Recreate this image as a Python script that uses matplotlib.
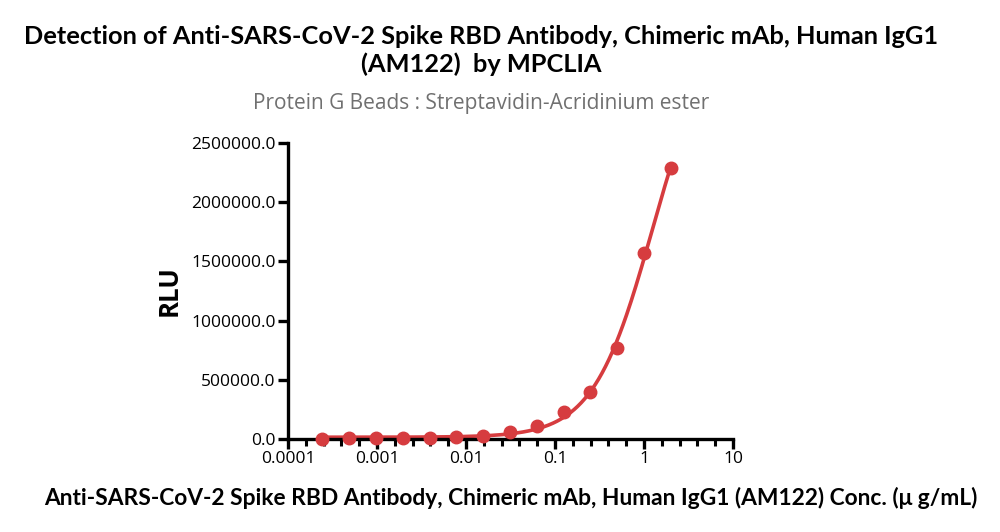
import numpy as np
import matplotlib.pyplot as plt
from matplotlib.ticker import FixedLocator, NullFormatter

conc = [2.0, 1.0, 0.5, 0.25, 0.125, 0.0625, 0.03125, 0.015625,
        0.0078125, 0.00390625, 0.001953125, 0.0009765625, 0.00048828125, 0.000244140625]
rlu = [2290000, 1570000, 770000, 398000, 228000, 110000, 57000, 25000,
       13000, 8000, 6000, 5000, 4000, 3000]

title = 'Detection of Anti-SARS-CoV-2 Spike RBD Antibody, Chimeric mAb, Human IgG1\n(AM122)  by MPCLIA'
subtitle = 'Protein G Beads : Streptavidin-Acridinium ester'
xlab = 'Anti-SARS-CoV-2 Spike RBD Antibody, Chimeric mAb, Human IgG1 (AM122) Conc. (\u03bc g/mL)'
xticks = [0.0001, 0.001, 0.01, 0.1, 1, 10]
xticklabels = ['0.0001', '0.001', '0.01', '0.1', '1', '10']
yticks = [0, 500000, 1000000, 1500000, 2000000, 2500000]

red = '#d63c3f'

# 4PL fit: grid over logEC50 / hill, bottom and top by least squares
lx = np.log10(conc)
y = np.array(rlu, dtype=float)
best = None
for le in np.linspace(-1, 2.5, 351):
    for h in np.linspace(0.4, 2.5, 211):
        s = 1 / (1 + 10 ** ((le - lx) * h))
        A = np.column_stack([1 - s, s])
        coef, *_ = np.linalg.lstsq(A, y, rcond=None)
        err = np.sum((A @ coef - y) ** 2)
        if best is None or err < best[0]:
            best = (err, le, h, coef)
_, le, h, (bot, top) = best
xf = np.logspace(lx.min(), lx.max(), 300)
sf = 1 / (1 + 10 ** ((le - np.log10(xf)) * h))
yf = bot + (top - bot) * sf

fig = plt.figure(figsize=(10, 5.32), dpi=100)
ax = fig.add_axes([0.288, 0.175, 0.445, 0.556])
ax.plot(xf, yf, color=red, lw=2.6, zorder=2)
ax.plot(conc, rlu, 'o', color=red, ms=9, zorder=3, clip_on=False)

ax.set_xscale('log')
ax.set_xlim(0.0001, 10)
ax.set_ylim(0, 2500000)
ax.xaxis.set_major_locator(FixedLocator(xticks))
ax.set_xticklabels(xticklabels, family='Open Sans')
minor = [10 ** (k + 0.2 * j) for k in range(-4, 1) for j in range(1, 5)]
ax.xaxis.set_minor_locator(FixedLocator(minor))
ax.xaxis.set_minor_formatter(NullFormatter())
ax.set_yticks(yticks)
ax.set_yticklabels(['%.1f' % v for v in yticks], family='Open Sans')
ax.xaxis.set_ticks_position('bottom')
ax.yaxis.set_ticks_position('left')

for s in ['top', 'right']:
    ax.spines[s].set_visible(False)
for s in ['left', 'bottom']:
    ax.spines[s].set_linewidth(2.4)
    ax.spines[s].set_color('black')
ax.tick_params(axis='both', which='major', direction='out', length=7, width=2.4,
               color='black', labelsize=12.5, pad=2)
ax.tick_params(axis='x', which='minor', direction='out', length=5, width=2.2,
               color='black')

ax.set_ylabel('RLU', fontsize=18.5, fontweight='bold', family='Open Sans', labelpad=6)
ax.set_xlabel(xlab, fontsize=16.4, fontweight='bold', family='Lato', labelpad=14)

fig.text(0.481, 0.905, title, ha='center', va='center', fontsize=18.3,
         fontweight='bold', family='Lato', linespacing=1.25)
fig.text(0.481, 0.806, subtitle, ha='center', va='center', fontsize=15,
         color='#707070', family='Open Sans')

fig.savefig('out.png', dpi=100)
